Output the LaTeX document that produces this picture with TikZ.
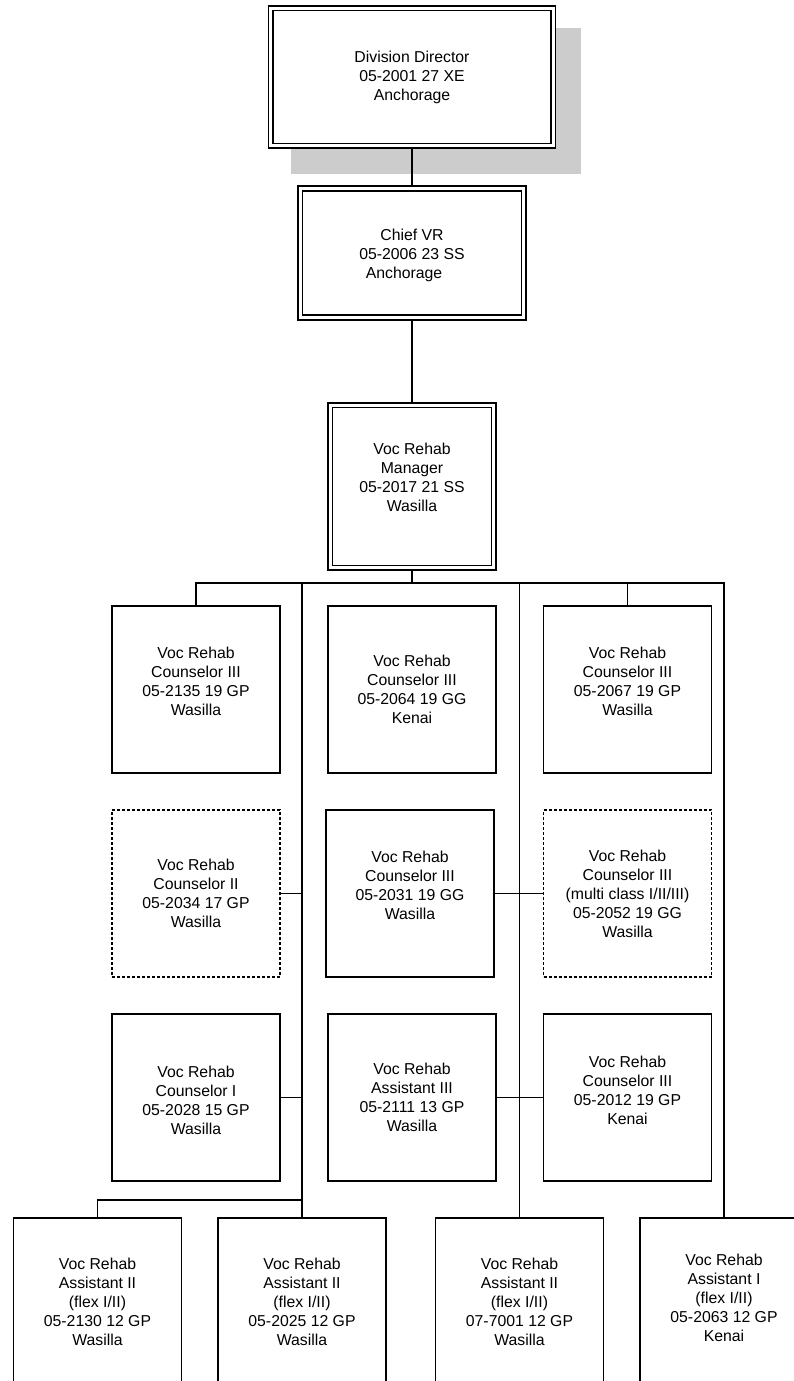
\documentclass[tikz,border=0pt]{standalone}
\usepackage{fontspec}
\setmainfont{Liberation Sans}
\usetikzlibrary{backgrounds}
\begin{document}
\begin{tikzpicture}[x=1pt,y=-1pt,
  conn/.style={line width=1.7pt},
  box/.style={draw, line width=1.7pt, fill=white, minimum width=168pt, minimum height=167pt, inner sep=0pt},
  dashbox/.style={box, line width=1.6pt, dash pattern=on 3pt off 2pt},
  dbox/.style={draw, fill=white, line width=1.6pt, double=white, double distance=2.9pt, inner sep=0pt},
  txt/.style={align=center, inner sep=0pt, font=\fontsize{15.8}{19}\selectfont},
  shadowfill/.style={fill=black!20}]
\useasboundingbox (0,0) rectangle (794,1381);
\clip (0,0) rectangle (794,1381);

% top chain
\node[dbox, minimum width=282.5pt, minimum height=137.5pt] (dir) at (412,77) {};
\node[txt] (dirT) at (dir.center) {Division Director\\05-2001 27 XE\\Anchorage};
\node[dbox, minimum width=223.5pt, minimum height=129pt] (chief) at (412,253) {};
\node[txt] (chiefT) at ([yshift=-2pt]chief.center) {Chief VR\\05-2006 23 SS\\Anchorage\kern16pt};
\node[dbox, minimum width=163.5pt, minimum height=162.5pt] (mgr) at (412,486.5) {};
\node[txt] (mgrT) at ([yshift=9pt]mgr.center) {Voc Rehab\\Manager\\05-2017 21 SS\\Wasilla};

% row 1
\node[box] (r1l) at (196,689.5) {};
\node[txt] (r1lT) at ([yshift=8pt]r1l.center) {Voc Rehab\\Counselor III\\05-2135 19 GP\\Wasilla};
\node[box] (r1m) at (412,689.5) {};
\node[txt] (r1mT) at (r1m.center) {Voc Rehab\\Counselor III\\05-2064 19 GG\\Kenai};
\node[box] (r1r) at (627.5,689.5) {};
\node[txt] (r1rT) at ([yshift=8pt]r1r.center) {Voc Rehab\\Counselor III\\05-2067 19 GP\\Wasilla};

% row 2
\node[dashbox] (r2l) at (196,893.5) {};
\node[txt] (r2lT) at (r2l.center) {Voc Rehab\\Counselor II\\05-2034 17 GP\\Wasilla};
\node[box] (r2m) at (410,893.5) {};
\node[txt] (r2mT) at ([yshift=8.5pt]r2m.center) {Voc Rehab\\Counselor III\\05-2031 19 GG\\Wasilla};
\node[dashbox] (r2r) at (627.5,893.5) {};
\node[txt] (r2rT) at (r2r.center) {Voc Rehab\\Counselor III\\(multi class I/II/III)\\05-2052 19 GG\\Wasilla};

% row 3
\node[box] (r3l) at (196,1097.5) {};
\node[txt] (r3lT) at ([yshift=-3pt]r3l.center) {Voc Rehab\\Counselor I\\05-2028 15 GP\\Wasilla};
\node[box] (r3m) at (412,1097.5) {};
\node[txt] (r3mT) at (r3m.center) {Voc Rehab\\Assistant III\\05-2111 13 GP\\Wasilla};
\node[box] (r3r) at (627.5,1097.5) {};
\node[txt] (r3rT) at ([yshift=7.5pt]r3r.center) {Voc Rehab\\Counselor III\\05-2012 19 GP\\Kenai};

% bottom row
\node[box] (b1) at (97.5,1301.5) {};
\node[txt] (b1T) at (b1.center) {Voc Rehab\\Assistant II\\(flex I/II)\\05-2130 12 GP\\Wasilla};
\node[box] (b2) at (302,1301.5) {};
\node[txt] (b2T) at (b2.center) {Voc Rehab\\Assistant II\\(flex I/II)\\05-2025 12 GP\\Wasilla};
\node[box] (b3) at (519.5,1301.5) {};
\node[txt] (b3T) at (b3.center) {Voc Rehab\\Assistant II\\(flex I/II)\\07-7001 12 GP\\Wasilla};
\node[box] (b4) at (724,1301.5) {};
\node[txt] (b4T) at ([yshift=3.5pt]b4.center) {Voc Rehab\\Assistant I\\(flex I/II)\\05-2063 12 GP\\Kenai};

\coordinate (hb) at (0,583);
\coordinate (bj) at (302,1200);

\begin{pgfonlayer}{background}
  \fill[shadowfill] (291,28) rectangle (581,174);
  \draw[conn] (dir.center) -- (chief.center);
  \draw[conn] (chief.center) -- (mgr.center);
  \draw[conn] (mgr.center) -- (mgr.center |- hb);
  \draw[conn] (r1l.center) |- (b4.center |- hb) -- (b4.center);
  \draw[conn] (r1r.center) -- (r1r.center |- hb);
  \draw[conn] (b2.center |- hb) -- (b2.center);
  \draw[conn] (b3.center |- hb) -- (b3.center);
  \draw[conn] (r2l.center) -- (r2l.center -| b2.center);
  \draw[conn] (r2m.center) -- (r2r.center);
  \draw[conn] (r3l.center) -- (r3l.center -| b2.center);
  \draw[conn] (r3m.center) -- (r3r.center);
  \draw[conn] (b1.center) |- (bj);
\end{pgfonlayer}
\end{tikzpicture}
\end{document}
